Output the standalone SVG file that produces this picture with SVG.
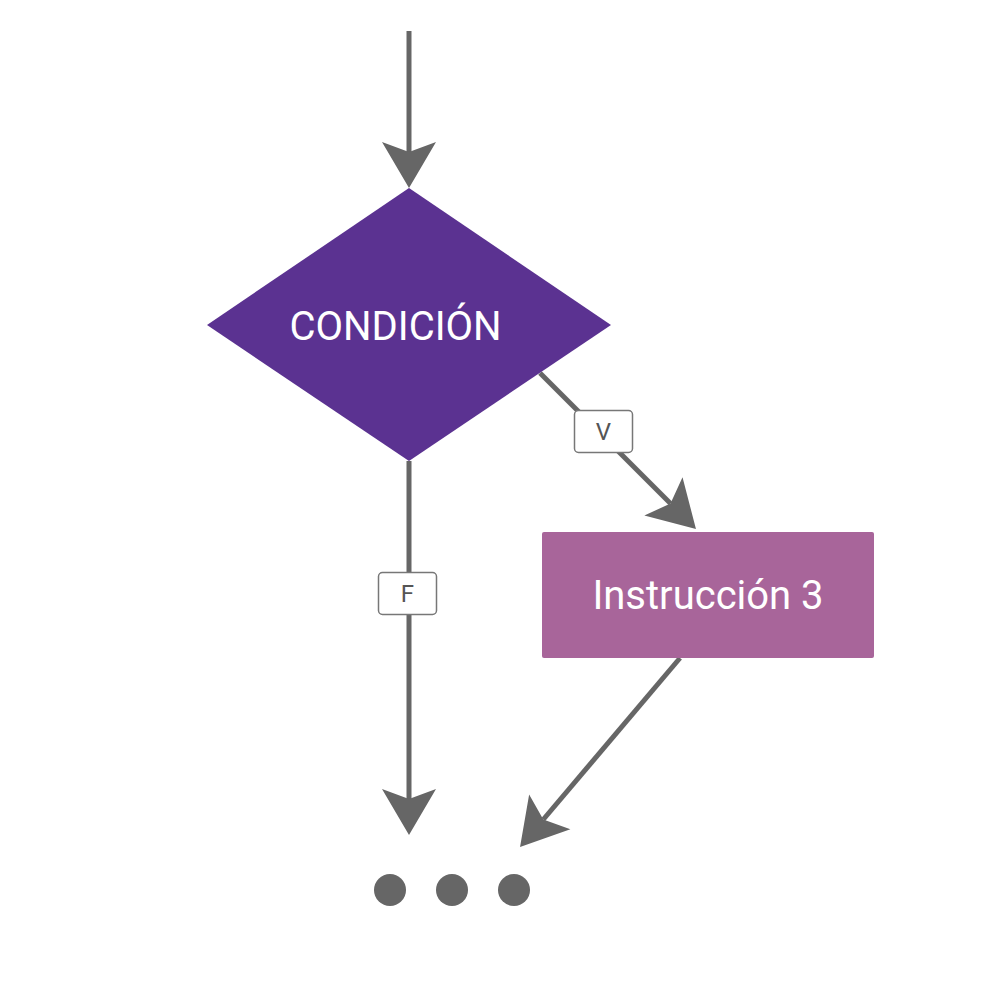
<svg xmlns="http://www.w3.org/2000/svg" width="1000" height="1000" viewBox="0 0 1000 1000">
<style>
.edge{stroke:#666;stroke-width:5;fill:none;marker-end:url(#ah)}
.lbl{fill:#fff;stroke:#777;stroke-width:1.5}
.lt{font-family:Roboto,"Liberation Sans",sans-serif;font-size:24px;fill:#555;text-anchor:middle}
.nt{font-family:Roboto,"Liberation Sans",sans-serif;font-size:40px;fill:#fff;text-anchor:middle}
</style>
<defs>
<marker id="ah" viewBox="-10 -27 46 54" markerWidth="46" markerHeight="54" refX="0" refY="0" markerUnits="userSpaceOnUse" orient="auto" overflow="visible">
<path d="M36,0 L-10,-27 L0,0 L-10,27 Z" fill="#666"/>
</marker>
</defs>
<g id="connectors">
<line class="edge" x1="409" y1="31" x2="409" y2="152"/>
<line class="edge" x1="540" y1="373" x2="670.5" y2="503.5"/>
<line class="edge" x1="409" y1="461" x2="409" y2="799"/>
<line class="edge" x1="680" y1="658" x2="543.3" y2="819.5"/>
<g id="label-v"><rect class="lbl" x="574.5" y="410.5" width="58" height="42" rx="4"/><text class="lt" x="603.5" y="440">V</text></g>
<g id="label-f"><rect class="lbl" x="378.5" y="572.5" width="58" height="42" rx="4"/><text class="lt" x="407.5" y="602">F</text></g>
</g>
<g id="condicion">
<polygon points="409,188 611,325 409,461 207,325" fill="#5b3291"/>
<text class="nt" x="395.5" y="340">CONDICIÓN</text>
</g>
<g id="instruccion3">
<rect x="542" y="532" width="332" height="126" rx="2" fill="#a8659a"/>
<text class="nt" x="708" y="609">Instrucción 3</text>
</g>
<g id="dots" fill="#666">
<circle cx="390" cy="890" r="16"/>
<circle cx="452" cy="890" r="16"/>
<circle cx="514" cy="890" r="16"/>
</g>
</svg>
